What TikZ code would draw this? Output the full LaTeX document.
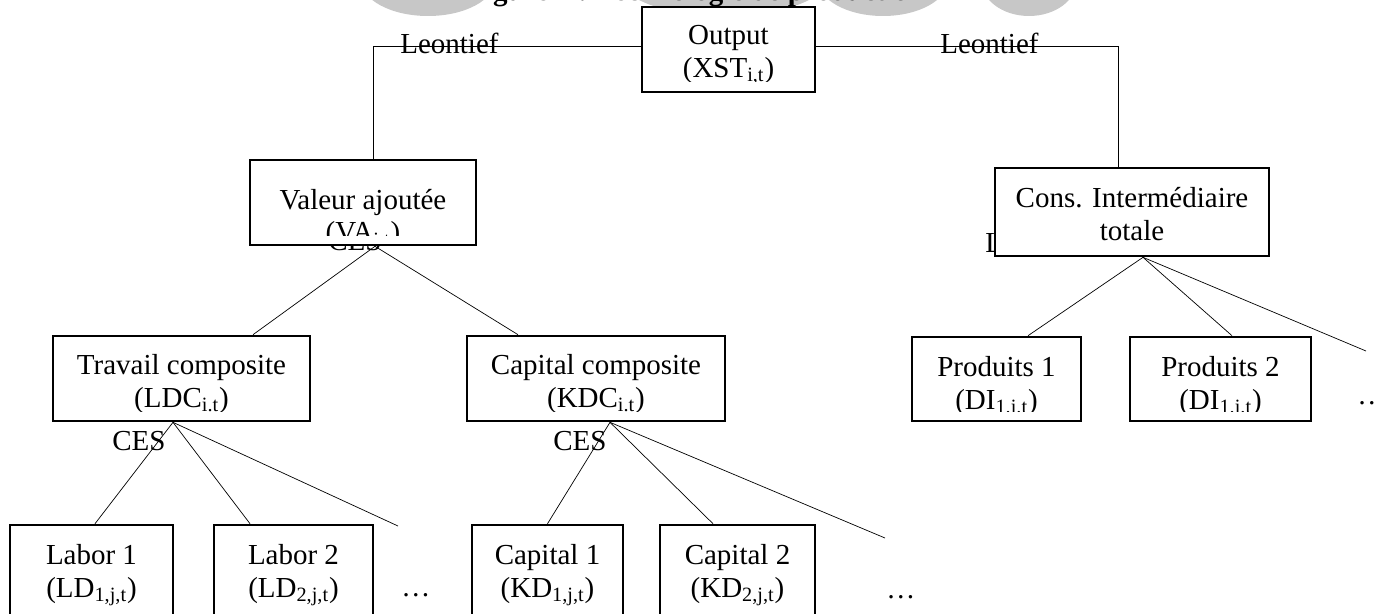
\documentclass[tikz,border=0pt]{standalone}
\usepackage{fontspec}
\setmainfont{Liberation Serif}
\usetikzlibrary{calc,positioning,backgrounds}

\begin{document}
\begin{tikzpicture}[x=0.02cm, y=-0.02cm, line width=1.5pt,
    font=\fontsize{16.5}{19}\selectfont,
    wbox/.style={draw, fill=white, inner sep=0pt},
    lbl/.style={anchor=base west, inner sep=0pt},
    inbox/.style n args={3}{path picture={
        \clip ([yshift=0.2cm]path picture bounding box.south west) rectangle (path picture bounding box.north east);
        \node[anchor=base, inner sep=0pt, draw=none, fill=none] at ([yshift=-#1]path picture bounding box.north) {#2};
        \node[anchor=base, inner sep=0pt, draw=none, fill=none] at ([yshift=-#1-0.66cm]path picture bounding box.north) {#3};}}]
    \useasboundingbox (0,0) rectangle (1376,613);
    \clip (0,0) rectangle (1376,613);

    % boxes
    \node[wbox, minimum width=3.46cm, minimum height=1.7cm, inbox={0.74cm}{Output}{(XST\textsubscript{i,t})}] (out) at (728.5,49.5) {};
    \node[wbox, minimum width=4.52cm, minimum height=1.7cm, inbox={0.98cm}{Valeur ajoutée}{(VA\textsubscript{i,t})}] (va) at (363,202.5) {};
    \node[wbox, minimum width=5.48cm, minimum height=1.76cm, inbox={0.78cm}{Cons. Intermédiaire}{totale}] (ci) at (1132,212) {};
    \node[wbox, minimum width=5.14cm, minimum height=1.7cm, inbox={0.76cm}{Travail composite}{(LDC\textsubscript{i.t})}] (ldc) at (181.5,378.5) {};
    \node[wbox, minimum width=5.16cm, minimum height=1.7cm, inbox={0.76cm}{Capital composite}{(KDC\textsubscript{i.t})}] (kdc) at (596,378.5) {};
    \node[wbox, minimum width=3.38cm, minimum height=1.68cm, inbox={0.78cm}{Produits 1}{(DI\textsubscript{1.i.t})}] (p1) at (996.5,379) {};
    \node[wbox, minimum width=3.62cm, minimum height=1.68cm, inbox={0.78cm}{Produits 2}{(DI\textsubscript{1.i.t})}] (p2) at (1220.5,379) {};
    \node[wbox, minimum width=3.26cm, minimum height=2cm, inbox={0.78cm}{Labor 1}{(LD\textsubscript{1,j,t})}] (l1) at (91.5,575) {};
    \node[wbox, minimum width=3.18cm, minimum height=2cm, inbox={0.78cm}{Labor 2}{(LD\textsubscript{2,j,t})}] (l2) at (293.5,575) {};
    \node[wbox, minimum width=3.02cm, minimum height=2cm, inbox={0.78cm}{Capital 1}{(KD\textsubscript{1,j,t})}] (k1) at (547.5,575) {};
    \node[wbox, minimum width=3.1cm, minimum height=2cm, inbox={0.78cm}{Capital 2}{(KD\textsubscript{2,j,t})}] (k2) at (737.5,575) {};

    \node[lbl] (ldots) at (400,596) {\ldots};
    \node[lbl] (kdots) at (885,598) {\ldots};
    \node[lbl] (pdots) at (1356,404) {\ldots};

    \coordinate (ldmore) at (398,526);
    \coordinate (kdmore) at (885,538);
    \coordinate (dimore) at (1366,351);

    \begin{scope}[on background layer]
        % watermark and title, cut at the top
        \fill[black!22] (428,-20) ellipse [x radius=1.34cm, y radius=0.72cm];
        \fill[black!22] (724,-20) ellipse [x radius=2.04cm, y radius=0.72cm];
        \fill[black!22] (883,-20) ellipse [x radius=1.3cm, y radius=0.72cm];
        \fill[black!22] (1029,-20) ellipse [x radius=0.96cm, y radius=0.72cm];
        \node[lbl, font=\fontsize{16.5}{19}\selectfont\bfseries] (title) at (467,0.5) {Figure 4 : Technologie de production};

        % Leontief level
        \draw ([yshift=0.07cm]out.west) -| ([xshift=0.2cm]va.north);
        \draw ([yshift=0.07cm]out.east) -| ([xshift=-0.28cm]ci.north);
        \node[lbl] (leoL) at (400,53) {Leontief};
        \node[lbl] (leoR) at (940,53) {Leontief};
        \node[lbl] (leoC) at (985,252) {Leontief};

        % CES levels
        \draw ([xshift=0.24cm]va.south) -- ([xshift=1.43cm]ldc.north);
        \draw ([xshift=0.24cm]va.south) -- ([xshift=-1.56cm]kdc.north);
        \node[lbl] (cesV) at (328,250) {CES};

        \draw ([xshift=-0.17cm]ldc.south) -- ([xshift=0.07cm]l1.north);
        \draw ([xshift=-0.17cm]ldc.south) -- ([xshift=-0.87cm]l2.north);
        \draw ([xshift=-0.17cm]ldc.south) -- (ldmore);
        \node[lbl] (cesL) at (112,450) {CES};

        \draw ([xshift=0.28cm]kdc.south) -- (k1.north);
        \draw ([xshift=0.28cm]kdc.south) -- ([xshift=-0.49cm]k2.north);
        \draw ([xshift=0.28cm]kdc.south) -- (kdmore);
        \node[lbl] (cesK) at (553,450) {CES};

        \draw ([xshift=0.22cm]ci.south) -- ([xshift=0.63cm]p1.north);
        \draw ([xshift=0.22cm]ci.south) -- ([xshift=0.23cm]p2.north);
        \draw ([xshift=0.22cm]ci.south) -- (dimore);
    \end{scope}
\end{tikzpicture}
\end{document}
